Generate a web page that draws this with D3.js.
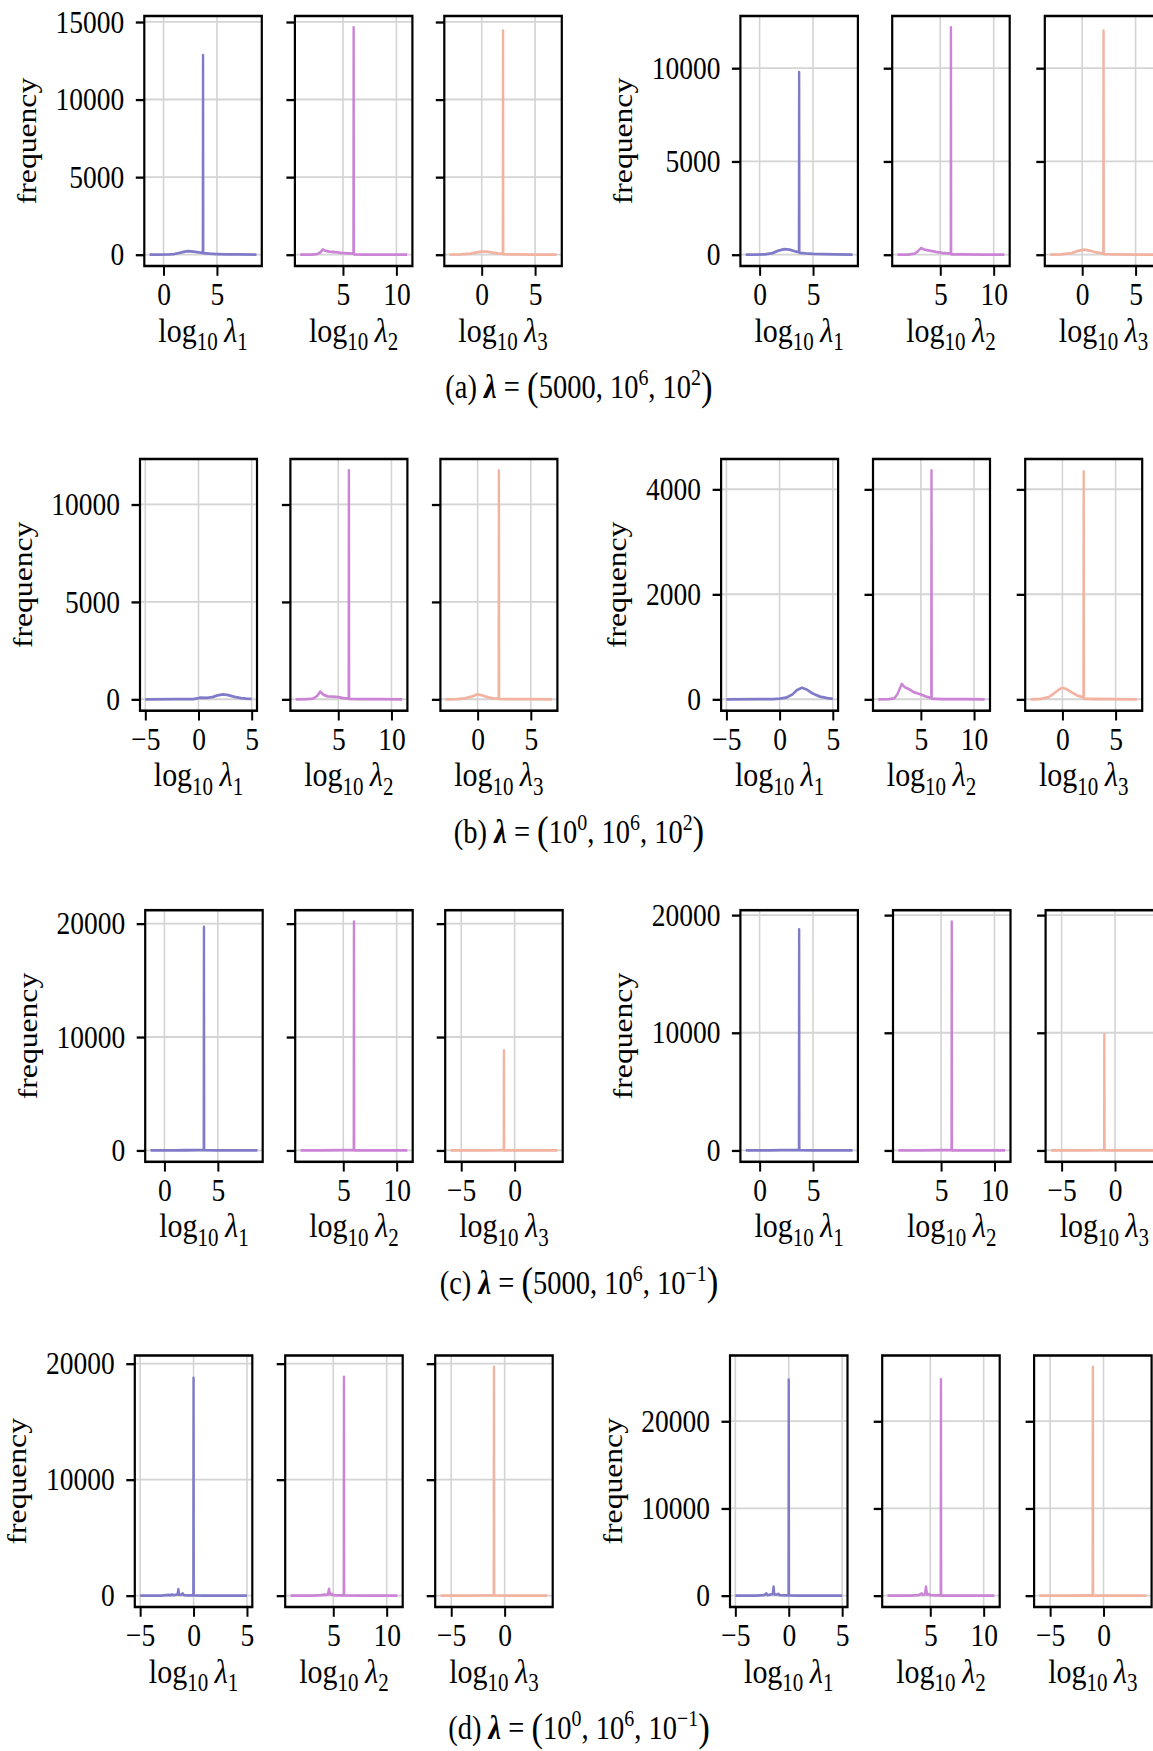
<!DOCTYPE html>
<html>
<head>
<meta charset="utf-8">
<script src="https://cdn.jsdelivr.net/npm/d3@7"></script>
<style>
  body { margin: 0; background: #fff; }
  svg { display: block; }
  text { font-family: "Liberation Serif", "DejaVu Serif", serif; fill: #000; }
</style>
</head>
<body>
<svg id="fig" width="1153" height="1751"></svg>
<script>
// ---------------- histogram curves: [log10 lambda, frequency] ----------------
// row (a): lambda = (5000, 1e6, 1e2)
const a_left_l1 = [[-1.3,0],[-0.5,4],[0.5,15],[1.0,40],[1.5,110],[2.0,200],[2.3,220],[2.8,190],[3.3,140],[3.68,110],[3.70,12860],[3.72,90],[4.3,60],[5.0,40],[6.0,20],[7.0,10],[8.7,4]];
const a_left_l2 = [[1.0,0],[2.0,5],[2.6,40],[2.9,150],[3.1,330],[3.3,260],[3.7,200],[4.2,170],[4.8,120],[5.5,80],[5.98,60],[6.0,14650],[6.02,20],[7.0,8],[9.0,2],[11.0,0]];
const a_left_l3 = [[-3.0,0],[-2.0,10],[-1.0,60],[-0.5,140],[0.0,200],[0.5,190],[1.0,130],[1.5,80],[1.98,50],[2.0,14440],[2.02,30],[3.0,15],[5.0,5],[7.0,0]];
const a_right_l1 = [[-1.3,0],[-0.5,5],[0.5,20],[1.2,80],[1.7,200],[2.3,300],[2.8,270],[3.3,180],[3.68,130],[3.70,9790],[3.72,100],[4.3,70],[5.0,45],[6.0,25],[7.0,12],[8.7,5]];
const a_right_l2 = [[1.0,0],[2.0,5],[2.6,50],[2.9,180],[3.2,355],[3.5,270],[4.0,210],[4.6,150],[5.2,100],[5.98,60],[6.0,12185],[6.02,20],[7.0,8],[9.0,2],[11.0,0]];
const a_right_l3 = [[-3.0,0],[-2.0,15],[-1.0,80],[-0.4,200],[0.2,265],[0.7,220],[1.2,130],[1.98,60],[2.0,12010],[2.02,30],[3.0,15],[5.0,5],[7.0,0]];

// row (b): lambda = (1e0, 1e6, 1e2)
const b_left_l1 = [[-5,0],[-2,2],[-0.5,10],[-0.1,40],[0.1,80],[0.8,70],[1.3,110],[1.8,200],[2.3,250],[2.8,210],[3.4,120],[4.0,60],[4.5,30],[5,15]];
const b_left_l2 = [[1,0],[2,5],[2.6,30],[3.0,160],[3.3,395],[3.6,240],[4.0,150],[4.5,140],[5.0,110],[5.5,60],[5.98,30],[6.0,11745],[6.02,15],[7,5],[9,2],[11,0]];
const b_left_l3 = [[-3,0],[-2,10],[-1.2,50],[-0.5,150],[0,257],[0.5,190],[1.0,100],[1.5,50],[1.98,30],[2.0,11745],[2.02,15],[3,8],[5,3],[7,0]];
const b_right_l1 = [[-5,0],[-2,2],[-0.5,5],[0,12],[0.6,30],[1.2,90],[1.6,170],[2.1,220],[2.6,180],[3.1,110],[3.8,50],[4.5,20],[5,8]];
const b_right_l2 = [[1,0],[2,2],[2.5,15],[2.8,100],[3.2,290],[3.5,230],[3.9,190],[4.4,130],[5.0,90],[5.5,50],[5.98,25],[6.0,4359],[6.02,10],[7,4],[9,1],[11,0]];
const b_right_l3 = [[-3,0],[-2,8],[-1.3,40],[-0.8,110],[-0.3,190],[0,220],[0.4,190],[0.9,130],[1.4,70],[1.98,35],[2.0,4340],[2.02,10],[3,5],[5,2],[7,0]];

// row (c): lambda = (5000, 1e6, 1e-1)
const c_left_l1 = [[-1.3,0],[1,5],[2,10],[3,20],[3.68,40],[3.70,19700],[3.72,20],[5,5],[8.7,0]];
const c_left_l2 = [[1,0],[3,5],[5,15],[5.98,30],[6.0,20170],[6.02,10],[8,2],[11,0]];
const c_left_l3 = [[-6,0],[-3,5],[-1.5,15],[-1.02,30],[-1.0,8810],[-0.98,10],[1,3],[4,0]];
const c_right_l1 = [[-1.3,0],[1,5],[2,12],[3,22],[3.68,40],[3.70,18790],[3.72,20],[5,5],[8.7,0]];
const c_right_l2 = [[1,0],[3,5],[5,15],[5.98,30],[6.0,19440],[6.02,10],[8,2],[11,0]];
const c_right_l3 = [[-6,0],[-3,5],[-1.5,15],[-1.02,30],[-1.0,9850],[-0.98,10],[1,3],[4,0]];

// row (d): lambda = (1e0, 1e6, 1e-1)
const d_left_l1 = [[-5,0],[-3,5],[-2.3,70],[-2.2,20],[-2.0,90],[-1.9,30],[-1.7,60],[-1.5,100],[-1.42,545],[-1.35,80],[-1.2,60],[-1.0,180],[-0.9,30],[-0.5,15],[-0.02,20],[0.0,18760],[0.02,10],[1,3],[5,0]];
const d_left_l2 = [[1,0],[3,3],[3.9,40],[4.1,80],[4.3,60],[4.5,100],[4.6,575],[4.7,90],[4.9,150],[5.0,30],[5.5,15],[5.98,20],[6.0,18850],[6.02,8],[8,2],[11,0]];
const d_left_l3 = [[-6,0],[-3,3],[-1.5,8],[-1.02,15],[-1.0,19713],[-0.98,8],[1,2],[4,0]];
const d_right_l1 = [[-5,0],[-3,5],[-2.3,60],[-2.1,250],[-2.0,60],[-1.7,120],[-1.5,200],[-1.42,1030],[-1.35,150],[-1.1,120],[-0.95,200],[-0.85,40],[-0.4,20],[-0.02,25],[0.0,24770],[0.02,10],[1,3],[5,0]];
const d_right_l2 = [[1,0],[3,3],[3.9,40],[4.2,250],[4.3,60],[4.5,150],[4.6,1030],[4.7,120],[4.9,180],[5.0,40],[5.5,20],[5.98,25],[6.0,24810],[6.02,8],[8,2],[11,0]];
const d_right_l3 = [[-6,0],[-3,3],[-1.5,8],[-1.02,15],[-1.0,26224],[-0.98,8],[1,2],[4,0]];

// ---------------- y tick values per panel group ----------------
const yTicks_a_left  = [0, 5000, 10000, 15000];
const yTicks_a_right = [0, 5000, 10000];
const yTicks_b_left  = [0, 5000, 10000];
const yTicks_b_right = [0, 2000, 4000];
const yTicks_c_left  = [0, 10000, 20000];
const yTicks_c_right = [0, 10000, 20000];
const yTicks_d_left  = [0, 10000, 20000];
const yTicks_d_right = [0, 10000, 20000];

// ---------------- sub-captions: letter, then the three components of lambda ----------------
const captionA = ["a", {v:"5000"}, {b:"10", e:"6"}, {b:"10", e:"2"}];
const captionB = ["b", {b:"10", e:"0"}, {b:"10", e:"6"}, {b:"10", e:"2"}];
const captionC = ["c", {v:"5000"}, {b:"10", e:"6"}, {b:"10", e:"\u22121"}];
const captionD = ["d", {b:"10", e:"0"}, {b:"10", e:"6"}, {b:"10", e:"\u22121"}];

const seriesColors = ["#7f7bc8", "#cc84d6", "#f2b3a1"];
const subscripts = ["1", "2", "3"];

// ---------------- layout (page pixels) ----------------
const S = 1.15;               // vertical stretch of the whole figure
const rows = [
  { top: 16,     bottom: 266,    w: 117.5, caption: captionA,
    groups: [ { lefts: [144.3, 294.9, 444.3], series: [a_left_l1, a_left_l2, a_left_l3], yTicks: yTicks_a_left },
              { lefts: [740.4, 892.2, 1044.8], series: [a_right_l1, a_right_l2, a_right_l3], yTicks: yTicks_a_right } ] },
  { top: 459,    bottom: 710.7,  w: 117.0, caption: captionB,
    groups: [ { lefts: [140.0, 290.4, 440.4], series: [b_left_l1, b_left_l2, b_left_l3], yTicks: yTicks_b_left },
              { lefts: [721.1, 873.0, 1025.2], series: [b_right_l1, b_right_l2, b_right_l3], yTicks: yTicks_b_right } ] },
  { top: 910.2,  bottom: 1161.8, w: 117.5, caption: captionC,
    groups: [ { lefts: [145.2, 295.2, 445.2], series: [c_left_l1, c_left_l2, c_left_l3], yTicks: yTicks_c_left },
              { lefts: [740.4, 893.0, 1045.6], series: [c_right_l1, c_right_l2, c_right_l3], yTicks: yTicks_c_right } ] },
  { top: 1355.5, bottom: 1607,   w: 117.5, caption: captionD,
    groups: [ { lefts: [134.8, 285.2, 435.2], series: [d_left_l1, d_left_l2, d_left_l3], yTicks: yTicks_d_left },
              { lefts: [730.0, 882.2, 1034.1], series: [d_right_l1, d_right_l2, d_right_l3], yTicks: yTicks_d_right } ] }
];

const tickFS = 27.5, xLabelFS = 30, yLabelFS = 27.5, capFS = 28.5;
const root = d3.select("#fig").append("g").attr("transform", `scale(1,${S})`);

// appends runs of text, each at its own baseline offset (negative = raised)
function runs(t, parts) {
  let level = 0;
  parts.forEach(p => {
    const ts = t.append("tspan").text(p.text);
    const lv = p.level || 0;
    if (lv !== level) { ts.attr("dy", lv - level); level = lv; }
    if (p.dx) ts.attr("dx", p.dx);
    if (p.size) ts.style("font-size", p.size + "px");
    if (p.italic) ts.style("font-style", "italic");
    if (p.bold) ts.style("font-weight", "bold");
  });
}

function xLabel(g, cx, y, idx) {
  const sub = xLabelFS * 0.7, sh = xLabelFS * 0.24;
  const t = g.append("text").attr("x", cx).attr("y", y).attr("text-anchor", "middle")
    .style("font-size", xLabelFS + "px");
  runs(t, [
    { text: "log" },
    { text: "10", level: sh, size: sub },
    { text: "\u03bb", level: 0, italic: true, dx: xLabelFS * 0.22 },
    { text: idx, level: sh, size: sub }
  ]);
}

function caption(g, cx, y, c) {
  const t = g.append("text").attr("x", cx).attr("y", y).attr("text-anchor", "middle")
    .style("font-size", capFS + "px");
  const sup = capFS * 0.7, up = -capFS * 0.4, big = capFS * 1.22, low = capFS * 0.05;
  const parts = [
    { text: `(${c[0]}) ` },
    { text: "\u03bb", bold: true, italic: true },
    { text: " = " },
    { text: "(", size: big, level: low }
  ];
  c.slice(1).forEach((p, i) => {
    if (p.v) parts.push({ text: p.v });
    else {
      parts.push({ text: p.b });
      parts.push({ text: p.e, level: up, size: sup });
    }
    if (i < 2) parts.push({ text: ", " });
  });
  parts.push({ text: ")", size: big, level: low });
  runs(t, parts);
}

rows.forEach(row => {
  const top = row.top / S, bottom = row.bottom / S;
  row.groups.forEach(grp => {
    const M = d3.max(grp.series.flat(), d => d[1]);
    const y = d3.scaleLinear().domain([-0.05 * M, 1.05 * M]).range([bottom, top]);
    let maxTickW = 0;

    grp.series.forEach((data, i) => {
      const left = grp.lefts[i], right = left + row.w;
      const ext = d3.extent(data, d => d[0]);
      const pad = 0.05 * (ext[1] - ext[0]);
      const x = d3.scaleLinear().domain([ext[0] - pad, ext[1] + pad]).range([left, right]);
      const [x0, x1] = x.domain();
      const xTicks = d3.range(Math.ceil(x0 / 5) * 5, x1 + 1e-9, 5);

      const g = root.append("g");

      // grid
      g.append("g").selectAll("line").data(xTicks).join("line")
        .attr("x1", d => x(d)).attr("x2", d => x(d)).attr("y1", top).attr("y2", bottom)
        .attr("stroke", "#d4d4d4").attr("stroke-width", 1.6);
      g.append("g").selectAll("line").data(grp.yTicks).join("line")
        .attr("x1", left).attr("x2", right).attr("y1", d => y(d)).attr("y2", d => y(d))
        .attr("stroke", "#d4d4d4").attr("stroke-width", 1.6);

      // histogram curve
      const line = d3.line().x(d => x(d[0])).y(d => y(d[1]));
      g.append("path").datum(data).attr("d", line)
        .attr("fill", "none").attr("stroke", seriesColors[i]).attr("stroke-width", 2.4)
        .attr("stroke-linejoin", "round");

      // frame
      g.append("rect").attr("x", left).attr("y", top).attr("width", row.w).attr("height", bottom - top)
        .attr("fill", "none").attr("stroke", "#000").attr("stroke-width", 2.2);

      // x axis
      const ax = g.append("g").attr("transform", `translate(0,${bottom})`)
        .call(d3.axisBottom(x).tickValues(xTicks).tickSize(8.5).tickPadding(6).tickSizeOuter(0));
      ax.select(".domain").remove();
      ax.selectAll(".tick line").attr("stroke", "#000").attr("stroke-width", 2);
      ax.selectAll(".tick text").attr("fill", "#000").style("font-size", tickFS + "px")
        .style("font-family", '"Liberation Serif", serif');

      // y axis
      const ay = g.append("g").attr("transform", `translate(${left},0)`)
        .call(d3.axisLeft(y).tickValues(grp.yTicks).tickSize(8.5).tickPadding(11.5).tickSizeOuter(0)
          .tickFormat(i === 0 ? d3.format("d") : () => ""));
      ay.select(".domain").remove();
      ay.selectAll(".tick line").attr("stroke", "#000").attr("stroke-width", 2);
      ay.selectAll(".tick text").attr("fill", "#000").style("font-size", tickFS + "px")
        .style("font-family", '"Liberation Serif", serif');
      if (i === 0) ay.selectAll(".tick text").each(function () {
        maxTickW = Math.max(maxTickW, this.getComputedTextLength());
      });

      xLabel(g, (left + right) / 2, bottom + 75.7 / S, subscripts[i]);
    });

    // y label
    const cx = grp.lefts[0] - 20 - maxTickW - 26;
    root.append("text")
      .attr("transform", `translate(${cx + yLabelFS * 0.23},${(top + bottom) / 2}) rotate(-90)`)
      .attr("text-anchor", "middle").style("font-size", yLabelFS + "px").text("frequency");
  });

  caption(root, 579, (row.bottom + 132) / S, row.caption);
});
</script>
</body>
</html>
